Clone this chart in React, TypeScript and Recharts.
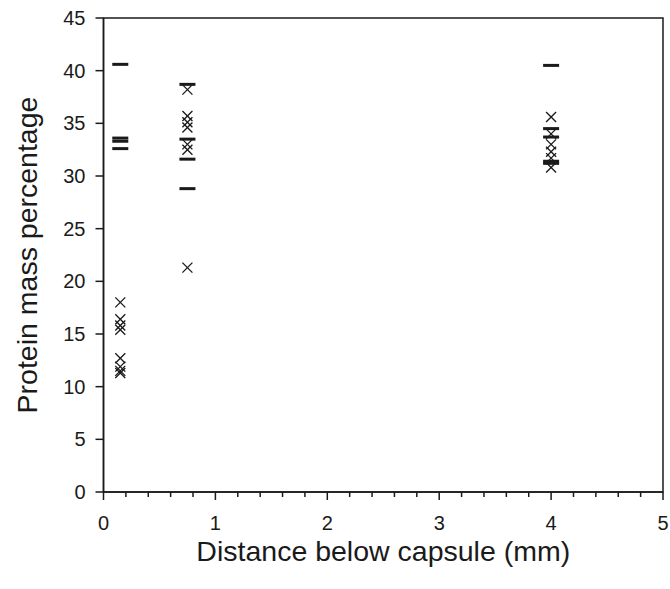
import { ScatterChart, Scatter, XAxis, YAxis, ReferenceArea } from "recharts"

// distance below capsule (mm) for each sampling group
const positions = [0.15, 0.75, 4]

// individual measurements (x markers)
const crossValues = [
  [18.0, 16.4, 15.8, 15.4, 12.7, 11.9, 11.5, 11.3],
  [38.2, 35.7, 35.1, 34.6, 33.0, 32.5, 21.3],
  [35.6, 34.0, 33.0, 32.3, 31.7, 30.8],
]

// dash markers
const dashValues = [
  [40.6, 33.6, 33.3, 32.6],
  [38.7, 33.5, 31.6, 28.8],
  [40.5, 34.5, 33.7, 31.4, 31.2],
]

const xTicks = [
  0, 0.2, 0.4, 0.6, 0.8, 1, 1.2, 1.4, 1.6, 1.8, 2, 2.2, 2.4, 2.6, 2.8, 3,
  3.2, 3.4, 3.6, 3.8, 4, 4.2, 4.4, 4.6, 4.8, 5,
]
const yTicks = [0, 5, 10, 15, 20, 25, 30, 35, 40, 45]

const crossData = positions.flatMap((x, i) => crossValues[i].map((y) => ({ x, y })))
const dashData = positions.flatMap((x, i) => dashValues[i].map((y) => ({ x, y })))

const font = "'Liberation Sans', Arial, sans-serif"

const Cross = (props: any) => {
  const { cx, cy } = props
  const r = 5
  return (
    <g stroke="#1a1a1a" strokeWidth={1.3}>
      <line x1={cx - r} y1={cy - r} x2={cx + r} y2={cy + r} />
      <line x1={cx - r} y1={cy + r} x2={cx + r} y2={cy - r} />
    </g>
  )
}

const Dash = (props: any) => {
  const { cx, cy } = props
  return <rect x={cx - 8} y={cy - 1.5} width={16} height={3} fill="#1a1a1a" />
}

const XTick = (props: any) => {
  const { x, y, payload } = props
  const major = Number.isInteger(payload.value)
  return (
    <g>
      <line x1={x} y1={y} x2={x} y2={y + (major ? 8 : 5)} stroke="#1a1a1a" strokeWidth={1.5} />
      {major && (
        <text x={x} y={y + 38} textAnchor="middle" fontSize={20} fill="#1a1a1a" fontFamily={font}>
          {payload.value}
        </text>
      )}
    </g>
  )
}

export default function App() {
  return (
    <div style={{ width: 670, height: 589 }}>
      <style>{`body{margin:0}`}</style>
      <ScatterChart width={670} height={589} margin={{ top: 18, right: 7, bottom: 0, left: 0 }}>
        <XAxis
          type="number"
          dataKey="x"
          domain={[0, 5]}
          ticks={xTicks}
          interval={0}
          tick={<XTick />}
          tickLine={false}
          tickSize={0}
          tickMargin={0}
          height={97}
          axisLine={{ stroke: "#1a1a1a", strokeWidth: 1.5 }}
          label={{
            value: "Distance below capsule (mm)",
            position: "insideTop",
            offset: 49,
            style: { fontSize: 28.5, fill: "#1a1a1a", fontFamily: font },
          }}
        />
        <YAxis
          type="number"
          dataKey="y"
          domain={[0, 45]}
          ticks={yTicks}
          interval={0}
          width={103.5}
          tickSize={8}
          tickMargin={10}
          tick={{ fontSize: 20, fill: "#1a1a1a", fontFamily: font }}
          tickLine={{ stroke: "#1a1a1a", strokeWidth: 1.5 }}
          axisLine={{ stroke: "#1a1a1a", strokeWidth: 1.5 }}
          label={{
            value: "Protein mass percentage",
            angle: -90,
            position: "insideLeft",
            offset: 27,
            style: { fontSize: 28.5, fill: "#1a1a1a", fontFamily: font, textAnchor: "middle" },
          }}
        />
        <ReferenceArea x1={0} x2={5} y1={0} y2={45} fill="none" stroke="#1a1a1a" strokeWidth={1.5} ifOverflow="visible" />
        <Scatter data={crossData} shape={<Cross />} isAnimationActive={false} />
        <Scatter data={dashData} shape={<Dash />} isAnimationActive={false} />
      </ScatterChart>
    </div>
  )
}
